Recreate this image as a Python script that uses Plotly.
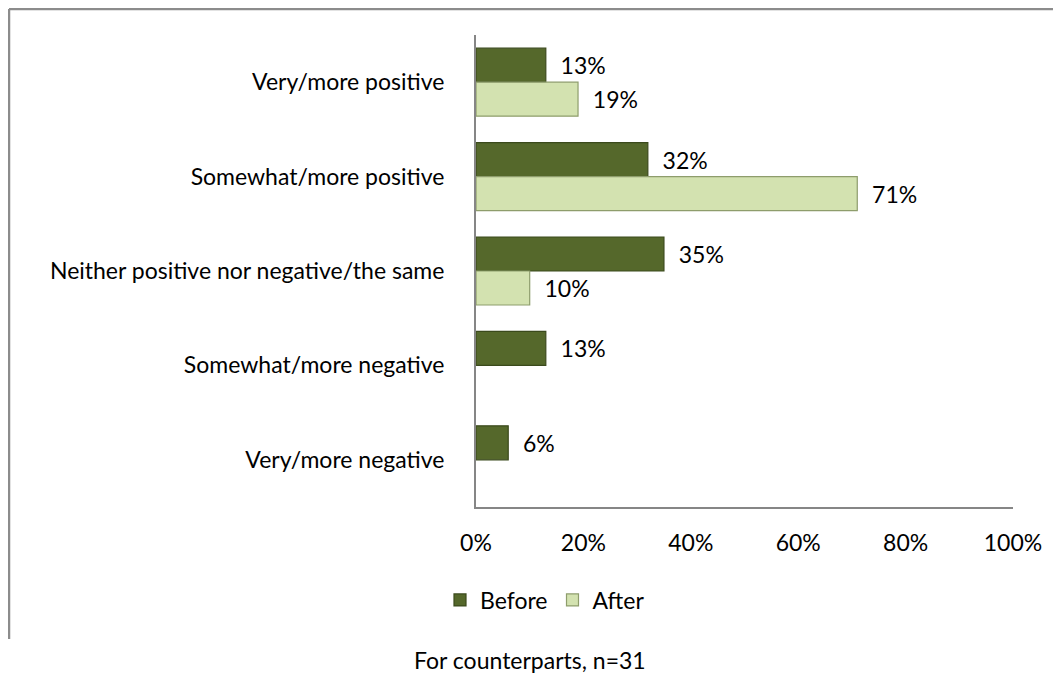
import plotly.graph_objects as go

categories = ["Very/more positive", "Somewhat/more positive",
              "Neither positive nor negative/the same",
              "Somewhat/more negative", "Very/more negative"]
before = [13, 32, 35, 13, 6]
after = [19, 71, 10, None, None]
x_ticks = [0, 20, 40, 60, 80, 100]
x_tick_labels = ["0%", "20%", "40%", "60%", "80%", "100%"]
series_names = ["Before", "After"]
caption = "For counterparts, n=31"

# page body has an 8px margin; work in screen pixels and subtract it
OFF = 8
W, H = 1061 - OFF, 673 - OFF
L, R, T, B = 476 - OFF, 1013 - OFF, 35 - OFF, 507 - OFF
FONT = "Lato"
FS = 23

def lbl(vals):
    return ["\u00a0\u00a0" + f"{v}%" if v is not None else "" for v in vals]

fig = go.Figure()
fig.add_trace(go.Bar(
    y=categories, x=before, name=series_names[0], orientation="h",
    marker=dict(color="#55682b", line=dict(color="#3b4a1c", width=1.2)),
    text=lbl(before), textposition="outside", cliponaxis=False,
    textfont=dict(family=FONT, size=FS, color="#000000"),
))
fig.add_trace(go.Bar(
    y=categories, x=after, name=series_names[1], orientation="h",
    marker=dict(color="#d3e2b0", line=dict(color="#8e9d6c", width=1.2)),
    text=lbl(after), textposition="outside", cliponaxis=False,
    textfont=dict(family=FONT, size=FS, color="#000000"),
))

pw = R - L
ph = B - T
def px_x(p):  # screen px -> paper
    return (p - OFF - L) / pw
def px_y(p):
    return (B - (p - OFF)) / ph

shapes = [
    dict(type="line", xref="paper", yref="paper",
         x0=px_x(9), x1=px_x(1061), y0=px_y(9), y1=px_y(9),
         line=dict(color="#8c8c8c", width=2.5)),
    dict(type="line", xref="paper", yref="paper",
         x0=px_x(9), x1=px_x(9), y0=px_y(9), y1=px_y(639),
         line=dict(color="#8c8c8c", width=2.5)),
]

fig.update_layout(
    width=W, height=H, autosize=False,
    margin=dict(l=L, r=W - R, t=T, b=H - B, pad=0),
    paper_bgcolor="white", plot_bgcolor="white",
    barmode="group", bargap=0.28, bargroupgap=0,
    font=dict(family=FONT, size=FS, color="#000000"),
    showlegend=True,
    legend=dict(orientation="h", x=px_x(545), xanchor="center",
                y=px_y(600), yanchor="middle",
                font=dict(family=FONT, size=FS), itemwidth=30,
                traceorder="normal"),
    shapes=shapes,
    annotations=[dict(text=caption, xref="paper", yref="paper",
                      x=px_x(530), y=px_y(660), xanchor="center",
                      yanchor="middle", showarrow=False,
                      font=dict(family=FONT, size=FS))],
    xaxis=dict(range=[0, 100], tickvals=x_ticks, ticktext=x_tick_labels,
               showgrid=False, zeroline=False, showline=True,
               linecolor="#868686", linewidth=2, ticks="",
               ticklabelstandoff=14, fixedrange=True),
    yaxis=dict(autorange="reversed", showgrid=False, zeroline=False,
               showline=True, linecolor="#868686", linewidth=2, ticks="",
               ticklabelstandoff=25, fixedrange=True),
)

fig.write_html("out.html")
